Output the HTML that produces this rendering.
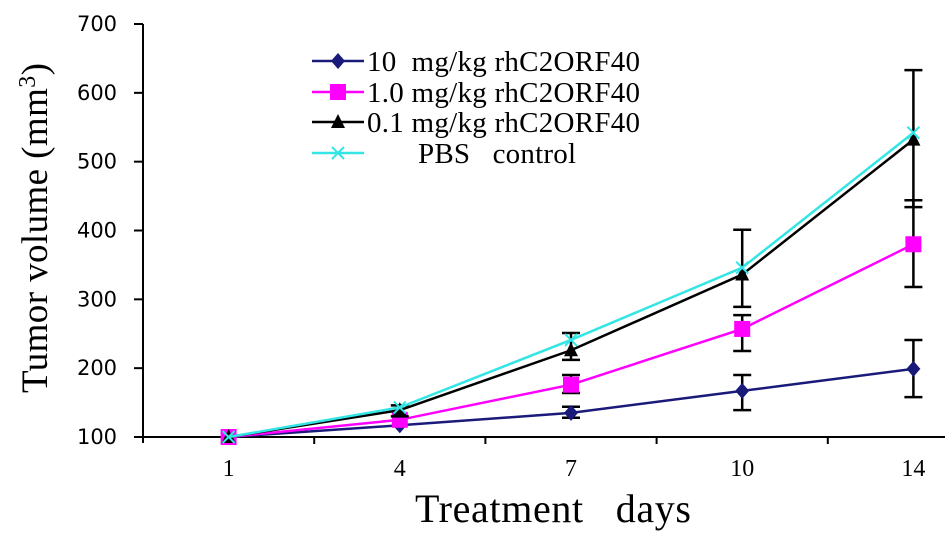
<!DOCTYPE html>
<html><head><meta charset="utf-8"><style>
html,body{margin:0;padding:0;background:#fff;}
svg{display:block;}
text{white-space:pre;}
</style></head><body>
<svg id="chart" width="945" height="539" viewBox="0 0 945 539" xmlns="http://www.w3.org/2000/svg">
<g id="axes"></g><g id="series"></g><g id="legend"></g>
</svg>
<script>
const days = ["1","4","7","10","14"];
const yTicks = [100,200,300,400,500,600,700];
const dose10 = [100,117,135,167,199];
const dose10Lo = [null,null,128,139,158];
const dose10Hi = [null,null,144,190,241];
const dose1 = [100,125,176,257,380];
const dose1Lo = [null,null,164,225,318];
const dose1Hi = [null,null,190,277,444];
const dose01 = [100,139,226,336,532];
const dose01Lo = [null,130,212,289,434];
const dose01Hi = [null,146,251,401,633];
const pbs = [100,143,241,346,542];
const legendLabels = ["10  mg/kg rhC2ORF40","1.0 mg/kg rhC2ORF40","0.1 mg/kg rhC2ORF40","PBS   control"];

const NS="http://www.w3.org/2000/svg";
const x0=143, bw=171.2, yB=437, yT=24;
function xs(i){return x0+bw*(i+0.5);}
function ys(v){return yB-(v-100)/600*(yB-yT);}
function mk(tag,attrs,parent){const e=document.createElementNS(NS,tag);for(const k in attrs)e.setAttribute(k,attrs[k]);parent.appendChild(e);return e;}
const axes=document.getElementById('axes'),ser=document.getElementById('series'),leg=document.getElementById('legend');

let a=mk('line',{x1:x0,y1:yT,x2:x0,y2:yB+6,stroke:'#000','stroke-width':2},axes);


a=mk('line',{x1:x0,y1:yB,x2:945,y2:yB,stroke:'#000','stroke-width':2},axes);


yTicks.forEach(v=>{
  const t=mk('line',{x1:x0-9,y1:ys(v),x2:x0,y2:ys(v),stroke:'#000','stroke-width':2},axes);
  
  
  const l=mk('text',{x:117,y:ys(v)+7,'text-anchor':'end','font-family':'DejaVu Sans, sans-serif','font-size':21,fill:'#000',textLength:40},axes);
  l.textContent=v;
  
  
});
for(let i=1;i<=days.length;i++){
  const t=mk('line',{x1:x0+bw*i,y1:yB,x2:x0+bw*i,y2:yB+7,stroke:'#000','stroke-width':2},axes);
  
  
}
days.forEach((d,i)=>{
  const l=mk('text',{x:xs(i),y:476,'text-anchor':'middle','font-family':'Liberation Serif, serif','font-size':24,fill:'#000'},axes);
  l.textContent=d;
  
  
});
let tt=mk('text',{x:553,y:522,'text-anchor':'middle','font-family':'Liberation Serif, serif','font-size':40,fill:'#000',textLength:276},axes);
tt.textContent='Treatment   days';


tt=mk('text',{x:0,y:0,'text-anchor':'middle','font-family':'Liberation Serif, serif','font-size':37,fill:'#000',transform:'translate(47,228) rotate(-90)',textLength:330},axes);
tt.innerHTML='Tumor volume (mm<tspan dy="-12" font-size="24">3</tspan><tspan dy="12">)</tspan>';



function marker(type,color,x,y,parent){
  let m;
  if(type==='diamond')m=mk('polygon',{points:`${x},${y-8} ${x+7},${y} ${x},${y+8} ${x-7},${y}`,fill:color},parent);
  else if(type==='square')m=mk('rect',{x:x-8,y:y-8,width:16,height:16,fill:color},parent);
  else if(type==='triangle')m=mk('polygon',{points:`${x},${y-8} ${x+7},${y+6} ${x-7},${y+6}`,fill:color},parent);
  else {m=mk('path',{d:`M${x-6},${y-6}L${x+6},${y+6}M${x+6},${y-6}L${x-6},${y+6}`,stroke:color,'stroke-width':2},parent);}
  return m;
}
function errbar(i,lo,hi,parent){
  const x=xs(i);
  const e=mk('path',{d:`M${x},${ys(hi)}L${x},${ys(lo)}M${x-9},${ys(hi)}L${x+9},${ys(hi)}M${x-9},${ys(lo)}L${x+9},${ys(lo)}`,stroke:'#000','stroke-width':2.5,fill:'none'},parent);
  
  
}
const S=[
 {name:'dose-10',vals:dose10,lo:dose10Lo,hi:dose10Hi,color:'#1a1a7a',m:'diamond'},
 {name:'dose-1',vals:dose1,lo:dose1Lo,hi:dose1Hi,color:'#ff00ff',m:'square'},
 {name:'dose-0-1',vals:dose01,lo:dose01Lo,hi:dose01Hi,color:'#000',m:'triangle'},
 {name:'pbs-control',vals:pbs,lo:null,hi:null,color:'#33e5e5',m:'x'}
];
S.forEach(s=>{
  const g=mk('g',{},ser);
  
  
  if(s.lo)s.vals.forEach((v,i)=>{if(s.lo[i]!=null)errbar(i,s.lo[i],s.hi[i],g);});
});
[3,0,1,2].forEach(k=>{
  const s=S[k];
  const g=ser.children[k];
  const p=mk('polyline',{points:s.vals.map((v,i)=>xs(i)+','+ys(v)).join(' '),fill:'none',stroke:s.color,'stroke-width':2.5},g);
  
  
  s.vals.forEach((v,i)=>{
    const m=marker(s.m,s.color,xs(i),ys(v),g);
    
    
  });
});
const ly=[61,92,122,153];
const lw=[273,273,273,158];
S.forEach((s,k)=>{
  const g=mk('g',{},leg);
  
  
  mk('line',{x1:312,y1:ly[k],x2:364,y2:ly[k],stroke:s.color,'stroke-width':2.5},g);
  marker(s.m,s.color,338,ly[k],g);
  const t=mk('text',{x:k===3?418:367,y:ly[k]+10,'font-family':'Liberation Serif, serif','font-size':29,fill:'#000',textLength:lw[k]},g);
  t.textContent=legendLabels[k];
});
</script>
</body></html>
